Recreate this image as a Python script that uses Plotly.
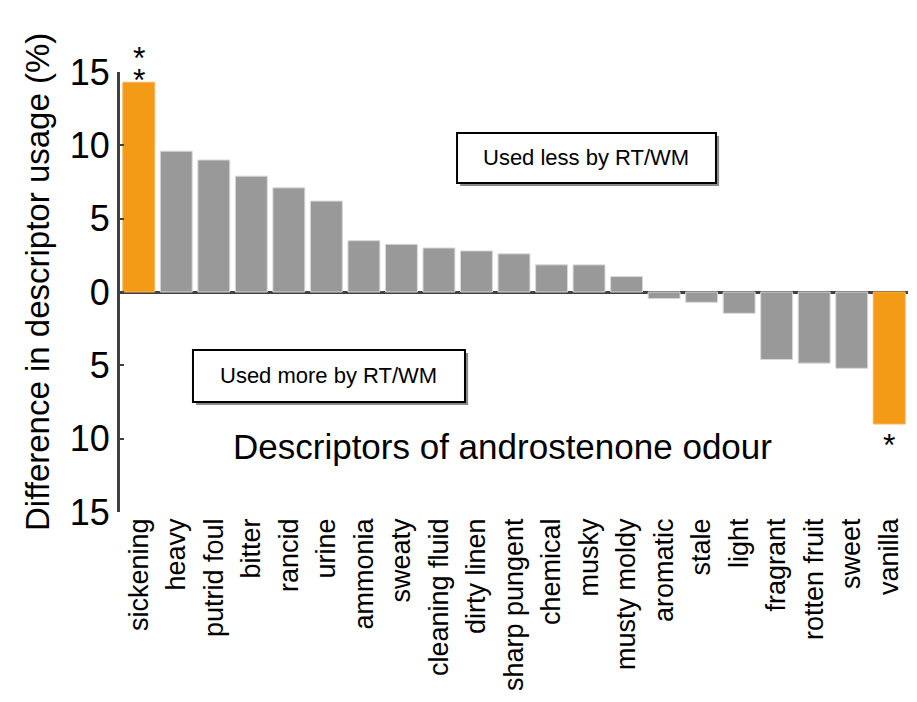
import plotly.graph_objects as go

categories = ["sickening", "heavy", "putrid foul", "bitter", "rancid", "urine",
              "ammonia", "sweaty", "cleaning fluid", "dirty linen", "sharp pungent",
              "chemical", "musky", "musty moldy", "aromatic", "stale", "light",
              "fragrant", "rotten fruit", "sweet", "vanilla"]
values = [14.3, 9.6, 9.0, 7.9, 7.1, 6.2, 3.5, 3.25, 3.0, 2.8, 2.6, 1.85, 1.85, 1.05,
          -0.45, -0.7, -1.45, -4.6, -4.85, -5.2, -9.0]
significant = ["**", "", "", "", "", "", "", "", "", "", "", "", "", "", "", "", "", "", "", "", "*"]
tick_vals = [-15, -10, -5, 0, 5, 10, 15]
tick_text = ["15", "10", "5", "0", "5", "10", "15"]

ORANGE = "#F39A17"
GRAY = "#999999"
FONT = "Liberation Sans, Arial, sans-serif"

colors = [ORANGE if s else GRAY for s in significant]
line_colors = ["#F6B65A" if s else "#D8D8D8" for s in significant]

fig = go.Figure()
fig.add_trace(go.Bar(x=categories, y=values, marker=dict(color=colors, line=dict(color=line_colors, width=1)),
                     showlegend=False, hoverinfo="x+y"))

annotations = []
for c, v, s in zip(categories, values, significant):
    if not s:
        continue
    if v > 0:
        for i, _ in enumerate(s):
            annotations.append(dict(x=c, y=v, xref="x", yref="y", text="*", showarrow=False,
                                    font=dict(family=FONT, size=32, color="black"),
                                    yanchor="bottom", yshift=-18 + 22 * i))
    else:
        annotations.append(dict(x=c, y=v, xref="x", yref="y", text=s, showarrow=False,
                                font=dict(family=FONT, size=32, color="black"),
                                yanchor="top", yshift=-1))

annotations += [
    dict(x=0, y=0.5, xref="paper", yref="paper", text="Difference in descriptor usage (%)",
         textangle=-90, showarrow=False, xanchor="center", yanchor="middle", xshift=-83, yshift=10,
         font=dict(family=FONT, size=33, color="black")),
    dict(x=0.485, y=0.15, xref="paper", yref="paper", text="Descriptors of androstenone odour",
         showarrow=False, xanchor="center", yanchor="middle",
         font=dict(family=FONT, size=35, color="black")),
    dict(x=(0.4277 + 0.7563) / 2, y=(0.8614 + 0.7477) / 2, xref="paper", yref="paper",
         text="Used less by RT/WM", showarrow=False, xanchor="center", yanchor="middle",
         font=dict(family=FONT, size=22, color="black")),
    dict(x=(0.0926 + 0.4378) / 2, y=(0.3682 + 0.25) / 2, xref="paper", yref="paper",
         text="Used more by RT/WM", showarrow=False, xanchor="center", yanchor="middle",
         font=dict(family=FONT, size=22, color="black")),
]

shapes = []
for (x0, x1, y0, y1) in [(0.4277, 0.7563, 0.7477, 0.8614), (0.0926, 0.4378, 0.25, 0.3682)]:
    shapes.append(dict(type="rect", xref="paper", yref="paper", x0=x0 + 0.004, x1=x1 + 0.004,
                       y0=y0 - 0.007, y1=y1 - 0.007, line=dict(width=0), fillcolor="#8a8a8a", layer="above"))
    shapes.append(dict(type="rect", xref="paper", yref="paper", x0=x0, x1=x1, y0=y0, y1=y1,
                       line=dict(color="black", width=2), fillcolor="white", layer="above"))

# page body has an 8px default margin, so the figure is 8px smaller on each axis
fig.update_layout(
    width=909, height=694,
    margin=dict(l=112, r=9, t=64, b=190),
    paper_bgcolor="white", plot_bgcolor="white",
    bargap=0.15,
    font=dict(family=FONT, color="black"),
    annotations=annotations,
    shapes=shapes,
    xaxis=dict(range=[-0.5, len(categories) - 0.5], showline=False, showgrid=False, zeroline=False,
               ticks="", tickangle=-90, tickfont=dict(family=FONT, size=27, color="black"),
               fixedrange=True, automargin=False),
    yaxis=dict(range=[-15, 15], tickvals=tick_vals, ticktext=tick_text, showgrid=False,
               showline=True, linecolor="#404040", linewidth=3, ticks="inside", ticklen=4,
               tickwidth=2, tickcolor="#404040",
               zeroline=True, zerolinecolor="#404040", zerolinewidth=3,
               tickfont=dict(family=FONT, size=36, color="black"), fixedrange=True,
               automargin=False),
)

fig.write_html("out.html")
